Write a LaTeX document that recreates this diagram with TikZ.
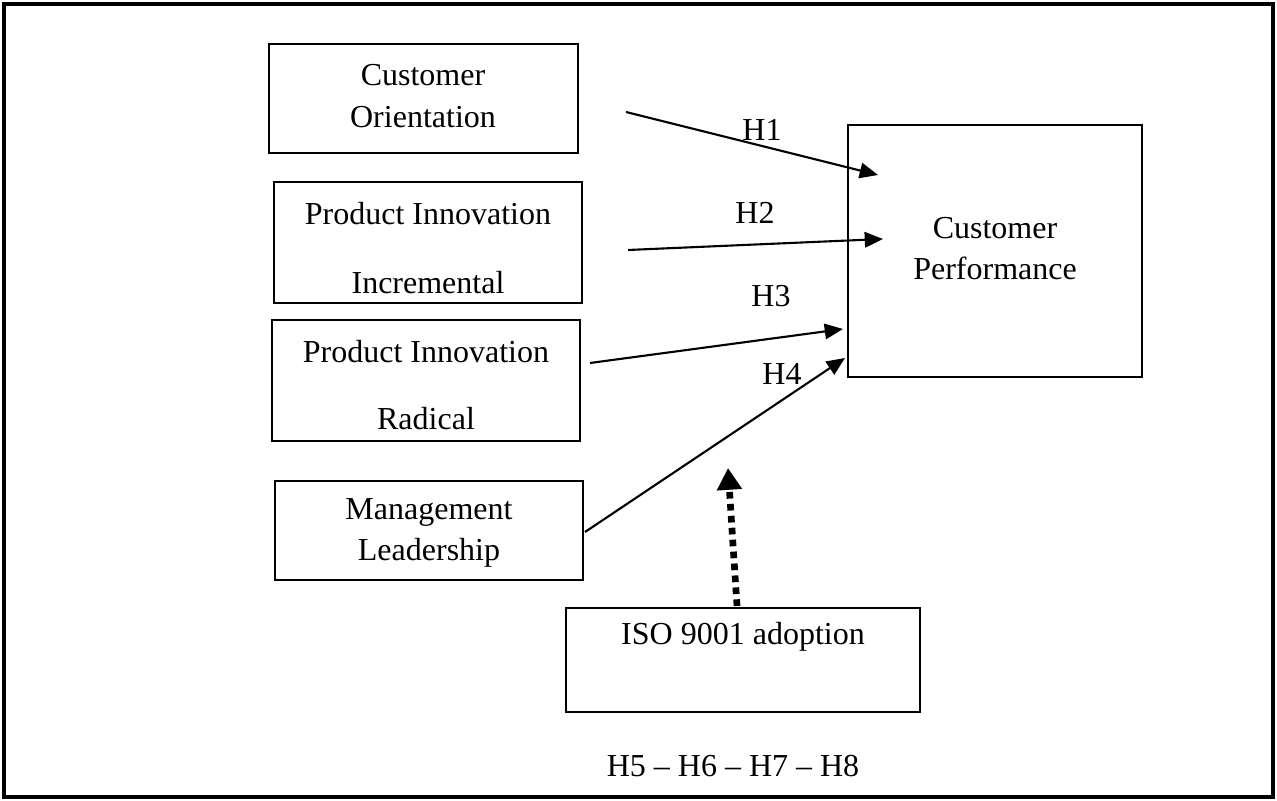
\documentclass[tikz,border=0pt]{standalone}
\usepackage{fontspec}
\setmainfont{Liberation Serif}
\usetikzlibrary{arrows.meta}
\begin{document}
\begin{tikzpicture}[x=0.01cm,y=-0.01cm,
  every node/.style={font=\fontsize{9.1}{11}\selectfont},
  box/.style={draw, line width=0.45pt},
  lbl/.style={inner sep=0pt, anchor=center},
  link/.style={line width=0.6pt, -{Triangle[length=5.2pt,width=4.4pt]}},
  moderator/.style={line width=1.9pt, dash pattern=on 1.9pt off 1.5pt, -{Triangle[length=6.2pt,width=6.8pt]}}]
\useasboundingbox (0,0) rectangle (1277,801);
\draw[line width=1.4pt] (4,4) rectangle (1273,797);

% construct boxes
\draw[box] (269,44) rectangle (578,153);
\node[lbl] (co1) at (423,75) {Customer};
\node[lbl] (co2) at (423,117) {Orientation};

\draw[box] (274,182) rectangle (582,303);
\node[lbl] (pi1) at (428,214) {Product Innovation};
\node[lbl] (pi2) at (428,283) {Incremental};

\draw[box] (272,320) rectangle (580,441);
\node[lbl] (pr1) at (426,352) {Product Innovation};
\node[lbl] (pr2) at (426,419) {Radical};

\draw[box] (275,481) rectangle (583,580);
\node[lbl] (ml1) at (429,512) {Management};
\node[lbl] (ml2) at (429,553) {Leadership};

\draw[box] (848,125) rectangle (1142,377);
\node[lbl] (cp1) at (995,228) {Customer};
\node[lbl] (cp2) at (995,268) {Performance};

\draw[box] (566,608) rectangle (920,712);
\node[lbl] (iso) at (743,637) {ISO 9001 adoption};
\node[lbl] (hyp) at (733,766) {H5 -- H6 -- H7 -- H8};

% arrow end points
\coordinate (s1) at (626,112);  \coordinate (e1) at (878,175);
\coordinate (s2) at (628,250);  \coordinate (e2) at (883,239);
\coordinate (s3) at (590,363);  \coordinate (e3) at (843,329);
\coordinate (s4) at (585,532);  \coordinate (e4) at (845,358);
\coordinate (s5) at (737,606);  \coordinate (e5) at (728,468);

\draw[link] (s1) -- (e1);
\draw[link] (s2) -- (e2);
\draw[link] (s3) -- (e3);
\draw[link] (s4) -- (e4);
\draw[moderator] (s5) -- (e5);

\node[lbl] (h1) at (762,130) {H1};
\node[lbl] (h2) at (755,213) {H2};
\node[lbl] (h3) at (771,296) {H3};
\node[lbl] (h4) at (782,374) {H4};
\end{tikzpicture}
\end{document}
